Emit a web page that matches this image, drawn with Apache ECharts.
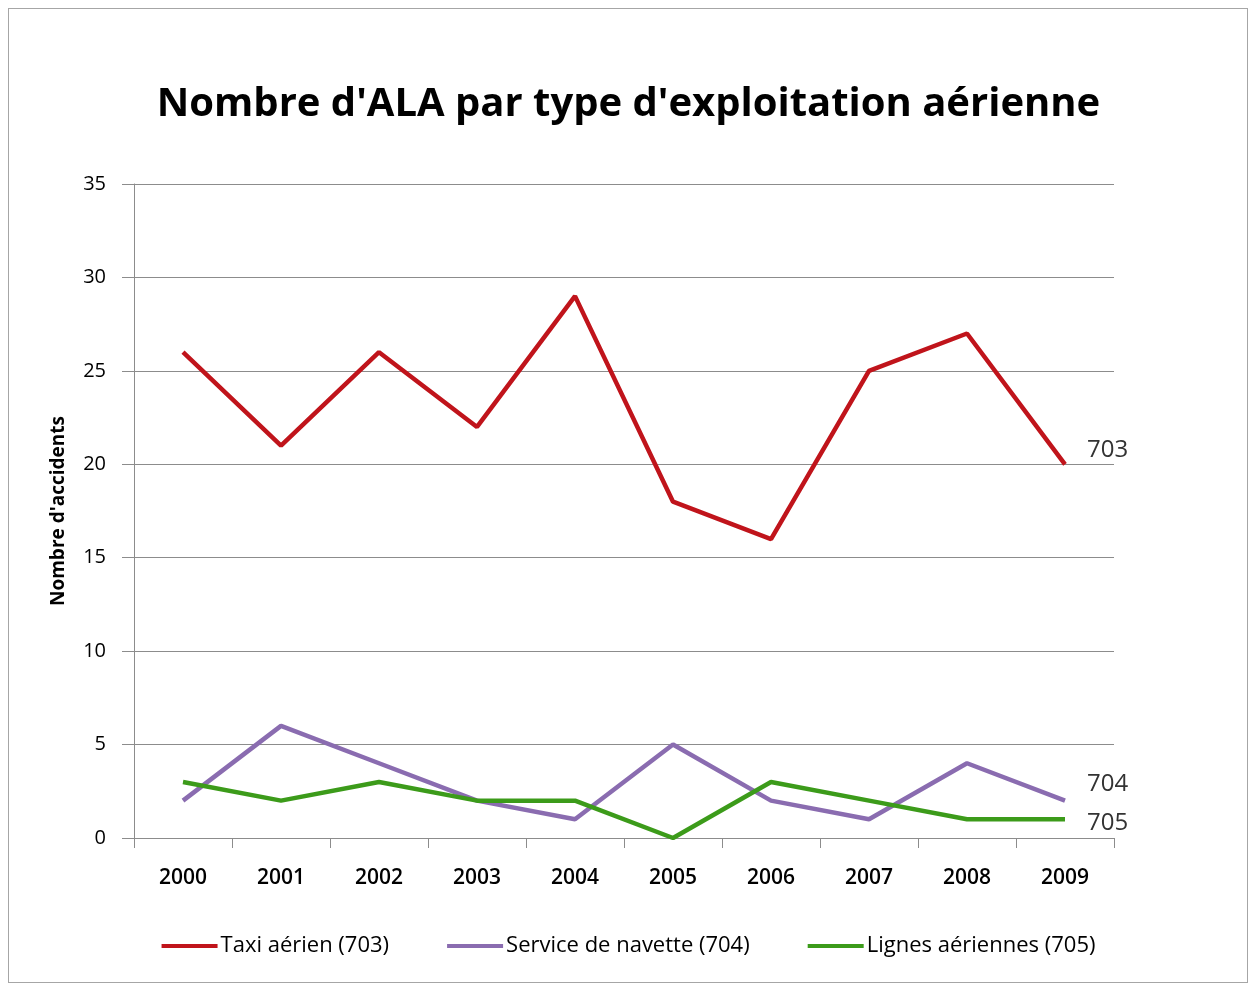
<!DOCTYPE html>
<html>
<head>
<meta charset="utf-8">
<script src="https://cdn.jsdelivr.net/npm/echarts@6/dist/echarts.min.js"></script>
<style>
    html, body { margin: 0; padding: 0; background: #fff; }
    #frame {
        position: absolute; left: 8px; top: 8px;
        width: 1240px; height: 975px;
        border: 1px solid #a6a6a6; box-sizing: border-box;
    }
    #myChart { position: absolute; left: 0; top: 0; width: 1257px; height: 986px; }
</style>
</head>
<body>
<div id="frame"></div>
<div id="myChart"></div>
<script>
    // données
    const years = ['2000', '2001', '2002', '2003', '2004', '2005', '2006', '2007', '2008', '2009']
    const taxi = [26, 21, 26, 22, 29, 18, 16, 25, 27, 20]
    const navette = [2, 6, 4, 2, 1, 5, 2, 1, 4, 2]
    const lignes = [3, 2, 3, 2, 2, 0, 3, 2, 1, 1]
    const seriesNames = ['Taxi aérien (703)', 'Service de navette (704)', 'Lignes aériennes (705)']
    const endCodes = ['703', '704', '705']

    const font = '"Open Sans", "Noto Sans", sans-serif'
    const colors = ['#C0141B', '#8A6CB0', '#3C9B1A']

    function makeSeries (i, data, offsetY) {
        return {
            name: seriesNames[i],
            type: 'line',
            data: data,
            symbol: 'none',
            lineStyle: { width: 4.5, color: colors[i] },
            itemStyle: { color: colors[i] },
            endLabel: {
                show: true,
                formatter: endCodes[i],
                color: '#333',
                fontSize: 24,
                fontFamily: font,
                offset: [14, offsetY]
            }
        }
    }

    let myChart = echarts.init(document.getElementById('myChart'))
    myChart.setOption({
        animation: false,
        title: {
            text: "Nombre d'ALA par type d'exploitation aérienne",
            left: 'center',
            top: 80,
            textStyle: { fontSize: 40, fontWeight: 'bold', color: '#000', fontFamily: font }
        },
        legend: {
            bottom: 24,
            left: 'center',
            icon: 'rect',
            itemWidth: 56,
            itemHeight: 4,
            itemGap: 58,
            textStyle: { fontSize: 22, color: '#000', fontFamily: font, padding: [0, 0, 0, -2] },
            data: seriesNames
        },
        grid: { left: 134, right: 143, top: 184, bottom: 148 },
        xAxis: {
            type: 'category',
            data: years,
            boundaryGap: true,
            axisLine: { lineStyle: { color: '#8c8c8c', width: 1 } },
            axisTick: { show: true, length: 10, lineStyle: { color: '#8c8c8c' } },
            axisLabel: { fontSize: 21, fontWeight: 600, color: '#000', margin: 30, fontFamily: font }
        },
        yAxis: {
            type: 'value',
            min: 0,
            max: 35,
            interval: 5,
            name: "Nombre d'accidents",
            nameLocation: 'middle',
            nameGap: 66,
            nameTextStyle: { fontSize: 19, fontWeight: 'bold', color: '#000', fontFamily: font },
            axisLine: { show: true, lineStyle: { color: '#8c8c8c', width: 1 } },
            axisTick: { show: true, length: 12, lineStyle: { color: '#8c8c8c' } },
            axisLabel: { fontSize: 20, color: '#000', margin: 28, fontFamily: font },
            splitLine: { lineStyle: { color: '#8c8c8c', width: 1 } }
        },
        series: [
            makeSeries(0, taxi, -14),
            makeSeries(1, navette, -16),
            makeSeries(2, lignes, 4)
        ]
    })
    window.onresize = myChart.resize
</script>
</body>
</html>
